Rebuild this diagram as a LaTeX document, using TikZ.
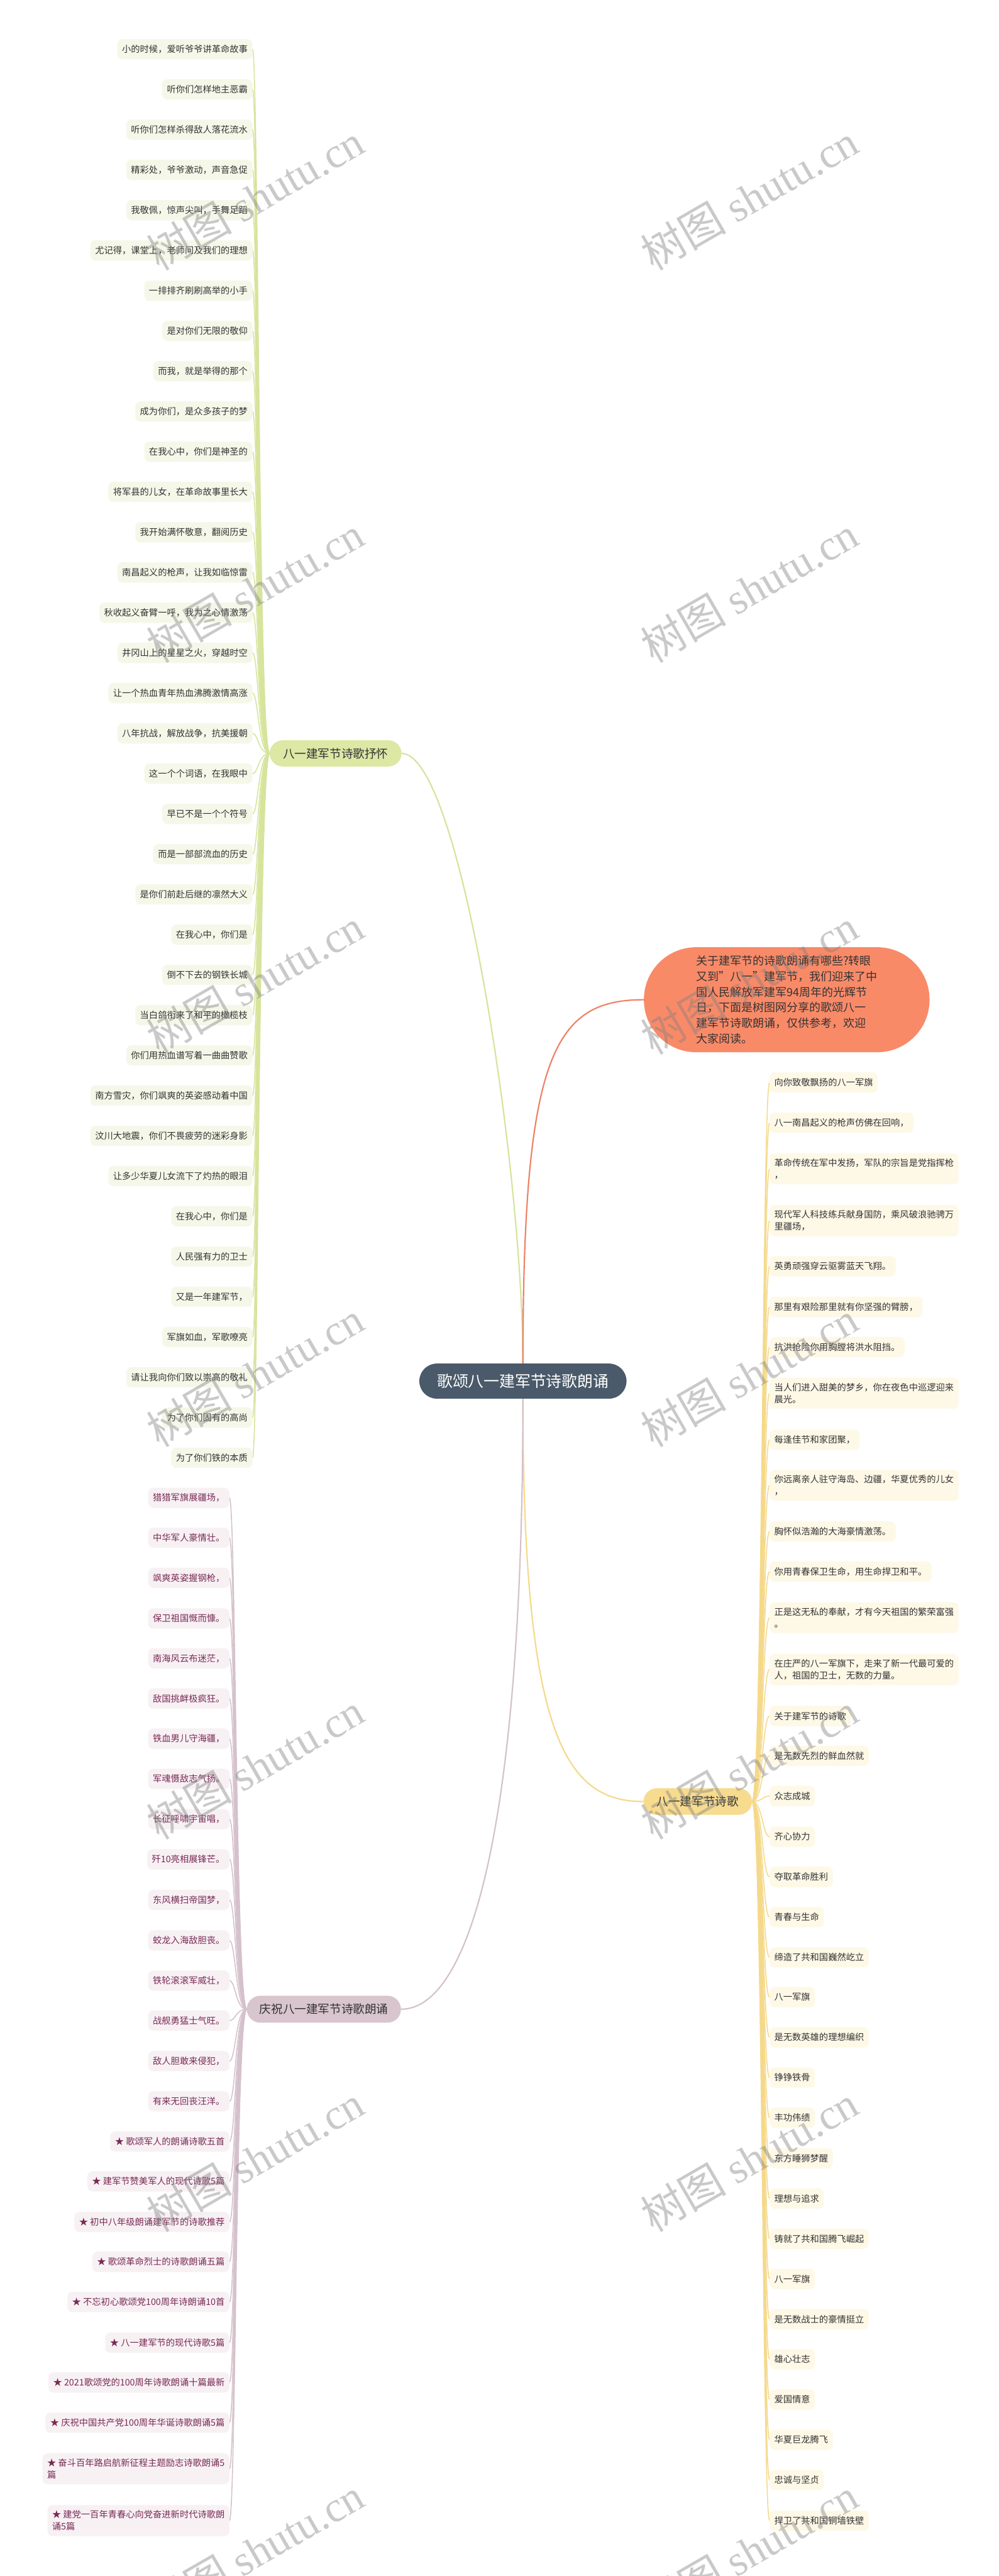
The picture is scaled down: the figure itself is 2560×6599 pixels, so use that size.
\documentclass[tikz,border=0pt]{standalone}
\usepackage{fontspec}
\setmainfont{Noto Sans CJK SC}
\newfontfamily\wmserif{Liberation Serif}
\definecolor{rootc}{HTML}{4A5A6A}
\definecolor{introc}{HTML}{F98A68}
\definecolor{introl}{HTML}{EE8266}
\definecolor{b1c}{HTML}{DCE8A4}
\definecolor{b1l}{HTML}{D6E49C}
\definecolor{b2c}{HTML}{D8C5CE}
\definecolor{b2l}{HTML}{D5C1CB}
\definecolor{b3c}{HTML}{F7DB8E}
\definecolor{b3l}{HTML}{F5D98A}
\definecolor{gleafc}{HTML}{F5F8E9}
\definecolor{mleafc}{HTML}{F7F1F4}
\definecolor{yleafc}{HTML}{FEF8E7}
\definecolor{txt}{HTML}{333333}
\definecolor{mtxt}{HTML}{7A2A55}
\pgfdeclarelayer{paper}
\pgfdeclarelayer{links}
\pgfsetlayers{paper,links,main}
\begin{document}
\begin{tikzpicture}[x=1pt,y=-1pt,
  rootst/.style={fill=rootc,text=white,rounded corners=45pt,minimum width=531pt,minimum height=90pt,inner sep=0pt,font=\fontsize{40}{48}\selectfont},
  introst/.style={fill=introc,text=txt,rounded corners=134pt,minimum width=732pt,minimum height=269pt,inner sep=0pt,align=left,font=\fontsize{29}{40}\selectfont},
  brst/.style={text=txt,inner sep=0pt,font=\fontsize{30}{36}\selectfont},
  leafbase/.style={rounded corners=13pt,inner xsep=12pt,inner ysep=13.5pt,minimum height=52pt,font=\fontsize{23}{31}\selectfont,align=left},
  gleaf/.style={leafbase,fill=gleafc,text=txt,anchor=east},
  mleaf/.style={leafbase,fill=mleafc,text=mtxt,anchor=east},
  yleaf/.style={leafbase,fill=yleafc,text=txt,anchor=west},
  mainlink/.style={line width=3.5pt},
  leaflink/.style={line width=2.5pt},
  wm/.style={text=black!50,text opacity=0.42,inner sep=0pt,font=\fontsize{110}{120}\selectfont}
]
\begin{pgfonlayer}{paper}
\fill[white] (0,0) rectangle (2560,6599);
\end{pgfonlayer}
\useasboundingbox (0,0) rectangle (2560,6599);

% central and main branches
\node[rootst] (root) at (1340,3538) {歌颂八一建军节诗歌朗诵};
\node[introst] (intro) at (2016,2561) {关于建军节的诗歌朗诵有哪些?转眼\\又到"八一"建军节，我们迎来了中\\国人民解放军建军94周年的光辉节\\日，下面是树图网分享的歌颂八一\\建军节诗歌朗诵，仅供参考，欢迎\\大家阅读。};
\node[brst,fill=b1c,rounded corners=33.5pt,minimum width=338pt,minimum height=67pt] (b1) at (860,1930) {八一建军节诗歌抒怀};
\node[brst,fill=b2c,rounded corners=34.5pt,minimum width=395pt,minimum height=69pt] (b2) at (830,5147) {庆祝八一建军节诗歌朗诵};
\node[brst,fill=b3c,rounded corners=34pt,minimum width=278pt,minimum height=68pt] (b3) at (1788,4615) {八一建军节诗歌};

\begin{pgfonlayer}{links}
\draw[mainlink,b1l] (root.north) .. controls (1340,3000) and (1180,1930) .. (b1.east);
\draw[mainlink,introl] (root.north) .. controls (1340,2700) and (1420,2561) .. (intro.west);
\draw[mainlink,b3l] (root.south) .. controls (1340,4450) and (1450,4615) .. (b3.west);
\draw[mainlink,b2l] (root.south) .. controls (1340,4700) and (1200,5147) .. (b2.east);
\end{pgfonlayer}

% branch 1 leaves
\foreach \t [count=\i] in {小的时候，爱听爷爷讲革命故事,听你们怎样地主恶霸,听你们怎样杀得敌人落花流水,精彩处，爷爷激动，声音急促,我敬佩，惊声尖叫，手舞足蹈,尤记得，课堂上，老师问及我们的理想,一排排齐刷刷高举的小手,是对你们无限的敬仰,而我，就是举得的那个,成为你们，是众多孩子的梦,在我心中，你们是神圣的,将军县的儿女，在革命故事里长大,我开始满怀敬意，翻阅历史,南昌起义的枪声，让我如临惊雷,秋收起义奋臂一呼，我为之心情激荡,井冈山上的星星之火，穿越时空,让一个热血青年热血沸腾激情高涨,八年抗战，解放战争，抗美援朝,这一个个词语，在我眼中,早已不是一个个符号,而是一部部流血的历史,是你们前赴后继的凛然大义,在我心中，你们是,倒不下去的钢铁长城,当白鸽衔来了和平的橄榄枝,你们用热血谱写着一曲曲赞歌,南方雪灾，你们飒爽的英姿感动着中国,汶川大地震，你们不畏疲劳的迷彩身影,让多少华夏儿女流下了灼热的眼泪,在我心中，你们是,人民强有力的卫士,又是一年建军节，,军旗如血，军歌嘹亮,请让我向你们致以崇高的敬礼,为了你们固有的高尚,为了你们铁的本质} {
  \pgfmathsetmacro\yy{126+103.1*(\i-1)}
  \node[gleaf] (g\i) at (647,\yy) {\t};
  \begin{pgfonlayer}{links}
  \draw[leaflink,b1l] (b1.west) .. controls (662,1930) and (662,\yy) .. (g\i.east);
  \end{pgfonlayer}
}

% branch 2 leaves
\foreach \yy/\t [count=\i] in {3837/猎猎军旗展疆场，,3939/中华军人豪情壮。,4042/飒爽英姿握钢枪，,4146/保卫祖国慨而慷。,4248/南海风云布迷茫，,4351/敌国挑衅极疯狂。,4454/铁血男儿守海疆，,4557/军魂慑敌志气扬。,4660/长征呼啸宇宙唱，,4763/歼10亮相展锋芒。,4867/东风横扫帝国梦，,4971/蛟龙入海敌胆丧。,5074/铁轮滚滚军威壮，,5176/战舰勇猛士气旺。,5280/敌人胆敢来侵犯，,5383/有来无回丧汪洋。,5486/★ 歌颂军人的朗诵诗歌五首,5588/★ 建军节赞美军人的现代诗歌5篇,5692/★ 初中八年级朗诵建军节的诗歌推荐,5794/★ 歌颂革命烈士的诗歌朗诵五篇,5897/★ 不忘初心歌颂党100周年诗朗诵10首,6001/★ 八一建军节的现代诗歌5篇,6103/★ 2021歌颂党的100周年诗歌朗诵十篇最新,6206/★ 庆祝中国共产党100周年华诞诗歌朗诵5篇,6324/{★ 奋斗百年路启航新征程主题励志诗歌朗诵5\\篇},6457/{★ 建党一百年青春心向党奋进新时代诗歌朗\\诵5篇}} {
  \node[mleaf] (m\i) at (588,\yy) {\t};
  \begin{pgfonlayer}{links}
  \draw[leaflink,b2l] (b2.west) .. controls (604,5147) and (604,\yy) .. (m\i.east);
  \end{pgfonlayer}
}

% branch 3 leaves
\foreach \yy/\t [count=\i] in {2773/向你致敬飘扬的八一军旗,2876/八一南昌起义的枪声仿佛在回响，,2994/{革命传统在军中发扬，军队的宗旨是党指挥枪\\，},3127/{现代军人科技练兵献身国防，乘风破浪驰骋万\\里疆场，},3244/英勇顽强穿云驱雾蓝天飞翔。,3348/那里有艰险那里就有你坚强的臂膀，,3451/抗洪抢险你用胸膛将洪水阻挡。,3569/{当人们进入甜美的梦乡，你在夜色中巡逻迎来\\晨光。},3688/每逢佳节和家团聚，,3805/{你远离亲人驻守海岛、边疆，华夏优秀的儿女\\，},3923/胸怀似浩瀚的大海豪情激荡。,4026/你用青春保卫生命，用生命捍卫和平。,4144/{正是这无私的奉献，才有今天祖国的繁荣富强\\。},4277/{在庄严的八一军旗下，走来了新一代最可爱的\\人，祖国的卫士，无数的力量。},4396/关于建军节的诗歌,4498/是无数先烈的鲜血然就,4601/众志成城,4705/齐心协力,4808/夺取革命胜利,4911/青春与生命,5014/缔造了共和国巍然屹立,5116/八一军旗,5219/是无数英雄的理想编织,5322/铮铮铁骨,5425/丰功伟绩,5529/东方睡狮梦醒,5632/理想与追求,5735/铸就了共和国腾飞崛起,5838/八一军旗,5941/是无数战士的豪情挺立,6044/雄心壮志,6147/爱国情意,6250/华夏巨龙腾飞,6353/忠诚与坚贞,6457/捍卫了共和国铜墙铁壁} {
  \node[yleaf] (y\i) at (1972,\yy) {\t};
  \begin{pgfonlayer}{links}
  \draw[leaflink,b3l] (b3.east) .. controls (1954,4615) and (1954,\yy) .. (y\i.west);
  \end{pgfonlayer}
}

% watermarks
\foreach \yy [count=\k] in {505,1510,2515,3520,4525,5530,6535} {
  \node[wm,rotate=30] (wmL\k) at (654,\yy) {树图 {\wmserif shutu.cn}};
  \node[wm,rotate=30] (wmR\k) at (1920,\yy) {树图 {\wmserif shutu.cn}};
}
\end{tikzpicture}
\end{document}
